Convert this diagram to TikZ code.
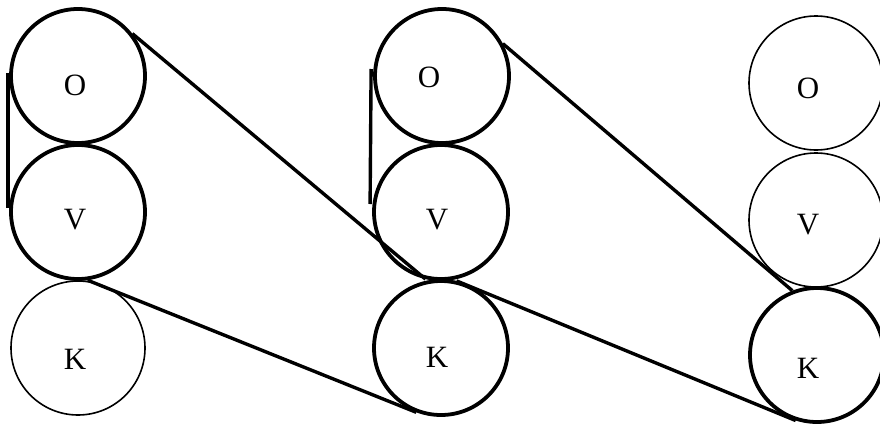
\documentclass[tikz,border=0pt]{standalone}
\usepackage{fontspec}
\setmainfont{Liberation Serif}
\begin{document}
\begin{tikzpicture}[x=1pt,y=-1pt,
  ring/.style={circle,draw,minimum size=134pt,inner sep=0pt},
  thickring/.style={ring,line width=3.8pt},
  thinring/.style={ring,line width=1.6pt},
  lab/.style={font=\fontsize{31}{31}\selectfont,inner sep=0pt},
  belt/.style={line width=3.4pt}]
\useasboundingbox (0,0) rectangle (880,423);
% column 1
\node[thickring] (o1) at (78,76) {};
\node[thickring] (v1) at (78,212) {};
\node[thinring]  (k1) at (78,348) {};
\node[lab] (lo1) at (75,85) {O};
\node[lab] (lv1) at (75,220) {V};
\node[lab] (lk1) at (75,359) {K};
% column 2
\node[thickring] (o2) at (442,76) {};
\node[thickring] (v2) at (441,212) {};
\node[thickring] (k2) at (441,348) {};
\node[lab] (lo2) at (429,77) {O};
\node[lab] (lv2) at (437,220) {V};
\node[lab] (lk2) at (437,357) {K};
% column 3
\node[thinring]  (o3) at (816,83) {};
\node[thinring]  (v3) at (816,220) {};
\node[thickring] (k3) at (817,355) {};
\node[lab] (lo3) at (808,88) {O};
\node[lab] (lv3) at (808,225) {V};
\node[lab] (lk3) at (808,368) {K};
% belts
\draw[belt] ([shift={(-1,-3)}]o1.west) -- ([shift={(-1,-4)}]v1.west);
\draw[belt] (o1.38) -- (v2.257);
\draw[belt] (v1.278) -- (k2.249);
\draw[belt] ([shift={(-2,-7)}]o2.west) -- ([shift={(-2,-8)}]v2.west);
\draw[belt] (o2.28) -- (k3.111);
\draw[belt] (k2.77) -- (k3.252);
\end{tikzpicture}
\end{document}
